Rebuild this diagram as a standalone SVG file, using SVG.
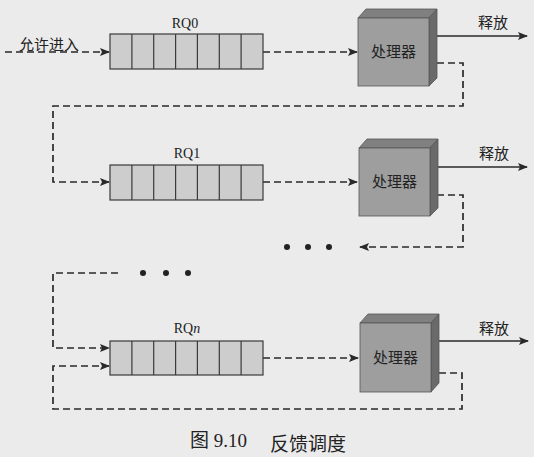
<svg xmlns="http://www.w3.org/2000/svg" width="534" height="457" viewBox="0 0 534 457">
<defs>
<style>
.bg{fill:#ebebeb}
.q{fill:#cdcdcd;stroke:#3a3a3a;stroke-width:1.2}
.qd{stroke:#3a3a3a;stroke-width:1.2}
.front{fill:#9e9e9e;stroke:#555;stroke-width:0.8}
.top{fill:#808080;stroke:#555;stroke-width:0.8}
.side{fill:#6a6a6a;stroke:#555;stroke-width:0.8}
.dash{fill:none;stroke:#2a2a2a;stroke-width:1.7;stroke-dasharray:7 4}
.solid{fill:none;stroke:#2a2a2a;stroke-width:1.6}
.cjk{font-family:"Noto Sans CJK SC","Noto Sans CJK JP",sans-serif;font-size:15px;fill:#222}
.lbl{font-family:"Liberation Serif",serif;font-size:14px;fill:#222}
.cap{font-family:"Liberation Serif","Noto Sans CJK SC",serif;font-size:19px;fill:#222}
.dot{fill:#222}
</style>
<marker id="ah" markerWidth="10" markerHeight="8" refX="9" refY="4" orient="auto" markerUnits="userSpaceOnUse">
<path d="M0,0 L10,4 L0,8 L2,4 Z" fill="#2a2a2a"/>
</marker>
</defs>
<rect class="bg" x="0" y="0" width="534" height="457"/>

<g id="connectors">
<path class="dash" d="M5,52 H109" marker-end="url(#ah)"/>
<path class="dash" d="M263,52 H357" marker-end="url(#ah)"/>
<path class="dash" d="M263,182 H357" marker-end="url(#ah)"/>
<path class="dash" d="M263,358 H358" marker-end="url(#ah)"/>
<path class="solid" d="M437,36 H527" marker-end="url(#ah)"/>
<path class="solid" d="M437,167 H527" marker-end="url(#ah)"/>
<path class="solid" d="M439,341 H528" marker-end="url(#ah)"/>
<path class="dash" d="M437,63 H463 V106 H53 V182 H109" marker-end="url(#ah)"/>
<path class="dash" d="M437,195 H463 V247 H360" marker-end="url(#ah)"/>
<path class="dash" d="M118,273 H53 V348 H109" marker-end="url(#ah)"/>
<path class="dash" d="M439,373 H462 V409 H53 V366 H109" marker-end="url(#ah)"/>
<circle class="dot" cx="287" cy="247" r="3"/>
<circle class="dot" cx="308" cy="247" r="3"/>
<circle class="dot" cx="329" cy="247" r="3"/>
<circle class="dot" cx="143" cy="273" r="3"/>
<circle class="dot" cx="166" cy="273" r="3"/>
<circle class="dot" cx="188" cy="273" r="3"/>
</g>

<g id="entry-label">
<text class="cjk" x="19" y="50">允许进入</text>
</g>

<g id="rq0">
<rect class="q" x="110" y="34" width="153" height="35"/>
<path class="qd" d="M131.9,34V69M153.7,34V69M175.6,34V69M197.4,34V69M219.3,34V69M241.1,34V69"/>
<text class="lbl" x="185" y="28" text-anchor="middle">RQ0</text>
</g>
<g id="rq1">
<rect class="q" x="110" y="165" width="153" height="35"/>
<path class="qd" d="M131.9,165V200M153.7,165V200M175.6,165V200M197.4,165V200M219.3,165V200M241.1,165V200"/>
<text class="lbl" x="187" y="158" text-anchor="middle">RQ1</text>
</g>
<g id="rqn">
<rect class="q" x="110" y="341" width="153" height="34"/>
<path class="qd" d="M131.9,341V375M153.7,341V375M175.6,341V375M197.4,341V375M219.3,341V375M241.1,341V375"/>
<text class="lbl" x="187" y="333" text-anchor="middle">RQ<tspan font-style="italic">n</tspan></text>
</g>

<g id="proc0">
<polygon class="top" points="358,18 366,9 437,9 429,18"/>
<polygon class="side" points="429,18 437,9 437,78 429,86"/>
<rect class="front" x="358" y="18" width="71" height="68"/>
<text class="cjk" x="393.5" y="57" text-anchor="middle">处理器</text>
<text class="cjk" x="493" y="28" text-anchor="middle">释放</text>
</g>
<g id="proc1">
<polygon class="top" points="359,148 367,139 438,139 430,148"/>
<polygon class="side" points="430,148 438,139 438,208 430,216"/>
<rect class="front" x="359" y="148" width="71" height="68"/>
<text class="cjk" x="394.5" y="187" text-anchor="middle">处理器</text>
<text class="cjk" x="494" y="159" text-anchor="middle">释放</text>
</g>
<g id="procn">
<polygon class="top" points="360,323 368,314 439,314 431,323"/>
<polygon class="side" points="431,323 439,314 439,383 431,392"/>
<rect class="front" x="360" y="323" width="71" height="69"/>
<text class="cjk" x="395.5" y="363" text-anchor="middle">处理器</text>
<text class="cjk" x="494" y="334" text-anchor="middle">释放</text>
</g>

<g id="caption">
<text class="cap" x="190" y="447">图 9.10</text>
<text class="cap" x="270" y="451" font-family="Noto Sans CJK SC, sans-serif">反馈调度</text>
</g>
</svg>
